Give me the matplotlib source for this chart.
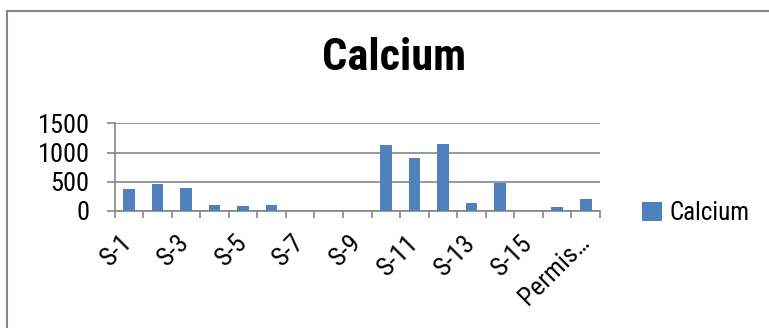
import matplotlib
matplotlib.use("Agg")
import matplotlib.pyplot as plt
from matplotlib import font_manager
from matplotlib.lines import Line2D
import numpy as np

names = set(f.name for f in font_manager.fontManager.ttflist)
narrow = [n for n in ["Liberation Sans Narrow", "Arial Narrow", "Roboto Condensed"] if n in names]
if narrow:
    fam = narrow[0]
    fs_tick, fs_leg, fs_title = 19, 18, 32
else:
    fam = "Liberation Sans"
    fs_tick, fs_leg, fs_title = 16, 17, 29
plt.rcParams['font.family'] = [fam, 'DejaVu Sans']

categories = ["S-1", "S-2", "S-3", "S-4", "S-5", "S-6", "S-7", "S-8", "S-9",
              "S-10", "S-11", "S-12", "S-13", "S-14", "S-15", "S-16",
              "Permissible limit"]
calcium = [383, 457, 395, 111, 86, 99, 0, 0, 0,
           1130, 907, 1142, 136, 488, 0, 74, 200]
shown_labels = ["S-1", "S-3", "S-5", "S-7", "S-9", "S-11", "S-13", "S-15", "Permis\u2026"]

W, H = 769, 328
fig = plt.figure(figsize=(W / 100, H / 100), dpi=100)
ax = fig.add_axes([114.6 / W, 1 - 211 / H, (600 - 114.6) / W, (211 - 123.5) / H])

grey = "#868686"
x = np.arange(len(categories))
ax.bar(x, calcium, width=0.41, color="#4F81BD", zorder=3, label="Calcium")

ax.set_xlim(-0.5, len(categories) - 0.5)
ax.set_ylim(0, 1500)
ax.set_yticks([0, 500, 1000, 1500])
ax.yaxis.grid(True, color=grey, linewidth=1.2, zorder=0)
ax.tick_params(axis="y", length=6, width=1.2, color=grey, labelsize=fs_tick, pad=12)

ax.set_xticks(np.arange(-0.5, len(categories)), minor=False)
ax.set_xticklabels([])
ax.set_xticks(x[::2], minor=True)
ax.set_xticklabels(shown_labels, minor=True, rotation=45, ha="right", va="center",
                   rotation_mode="anchor", fontsize=fs_tick)
ax.tick_params(axis="x", which="major", length=5, width=1.2, color=grey)
ax.tick_params(axis="x", which="minor", length=0, pad=20)

for s in ["top", "right"]:
    ax.spines[s].set_visible(False)
for s in ["left", "bottom"]:
    ax.spines[s].set_color(grey)
    ax.spines[s].set_linewidth(1.2)

fig.text(394 / W, 1 - 58.5 / H, "Calcium", ha="center", va="center",
         fontsize=fs_title, fontweight="bold")

fig.legend(loc="center left", bbox_to_anchor=(642 / W, 1 - 213 / H), frameon=False,
           fontsize=fs_leg, handlelength=0.8, handleheight=0.8, handletextpad=0.3,
           borderpad=0, borderaxespad=0)

fig.add_artist(Line2D([7 / W, 1], [1 - 11 / H, 1 - 11 / H], color=grey, linewidth=1.5))
fig.add_artist(Line2D([7 / W, 7 / W], [0, 1 - 11 / H], color=grey, linewidth=1.5))

fig.savefig("out.png", dpi=100)
